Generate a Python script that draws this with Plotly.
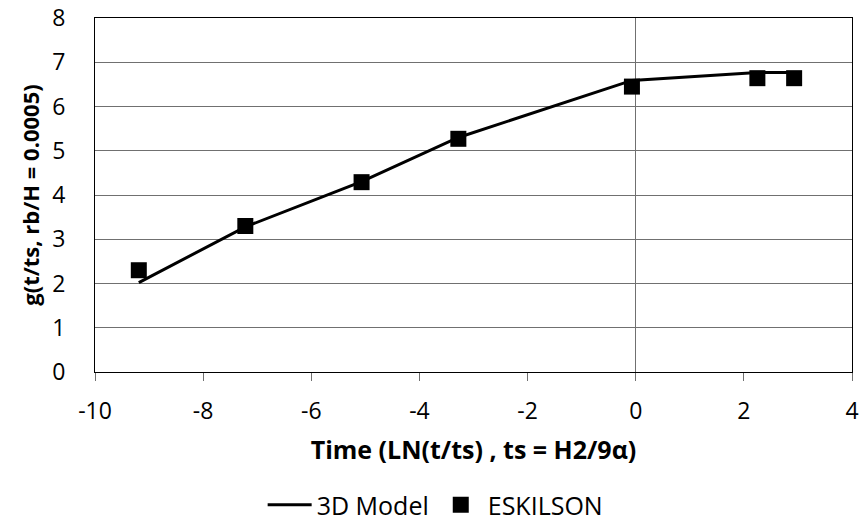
import plotly.graph_objects as go

# Data
model_x = [-9.19, -7.22, -5.07, -3.28, -0.07, 2.25, 2.93]
model_y = [2.02, 3.28, 4.30, 5.30, 6.59, 6.77, 6.77]
esk_x = [-9.19, -7.22, -5.07, -3.28, -0.07, 2.25, 2.93]
esk_y = [2.30, 3.30, 4.29, 5.27, 6.45, 6.64, 6.64]

x_ticks = [-10, -8, -6, -4, -2, 0, 2, 4]
y_ticks = [0, 1, 2, 3, 4, 5, 6, 7, 8]

FONT = "Open Sans"

fig = go.Figure()
fig.add_trace(go.Scatter(x=model_x, y=model_y, mode="lines", name="3D Model",
                         line=dict(color="black", width=3)))
fig.add_trace(go.Scatter(x=esk_x, y=esk_y, mode="markers", name="ESKILSON",
                         marker=dict(symbol="square", color="black", size=16)))

fig.update_layout(
    width=859, height=525,
    margin=dict(l=95, r=7, t=18, b=153, autoexpand=False),
    paper_bgcolor="white", plot_bgcolor="white",
    font=dict(family=FONT, color="black", size=23),
    showlegend=True,
    legend=dict(orientation="h", x=0.45, xanchor="center", y=-0.376, yanchor="middle",
                font=dict(size=25), itemwidth=44, traceorder="normal"),
    xaxis=dict(range=[-10, 4], tickvals=x_ticks, ticktext=[str(v) for v in x_ticks],
               showgrid=False, zeroline=True, zerolinecolor="#707070", zerolinewidth=1,
               showline=True, linecolor="black", linewidth=1, mirror=True, automargin=False,
               ticks="outside", ticklen=8, tickcolor="#707070", tickfont=dict(size=23),
               ticklabelstandoff=10,
               title=dict(text="<b>Time (LN(t/ts) , ts = H2/9α)</b>", font=dict(size=25), standoff=16)),
    yaxis=dict(range=[0, 8], tickvals=y_ticks, ticktext=[str(v) for v in y_ticks],
               showgrid=True, gridcolor="#707070", gridwidth=1, zeroline=False,
               showline=True, linecolor="black", linewidth=1, mirror=True, automargin=False,
               ticks="", ticklabelstandoff=24, tickfont=dict(size=23),
               title=dict(text="<b>g(t/ts, rb/H = 0.0005)</b>", font=dict(size=22), standoff=6)),
)

fig.write_html("out.html")
